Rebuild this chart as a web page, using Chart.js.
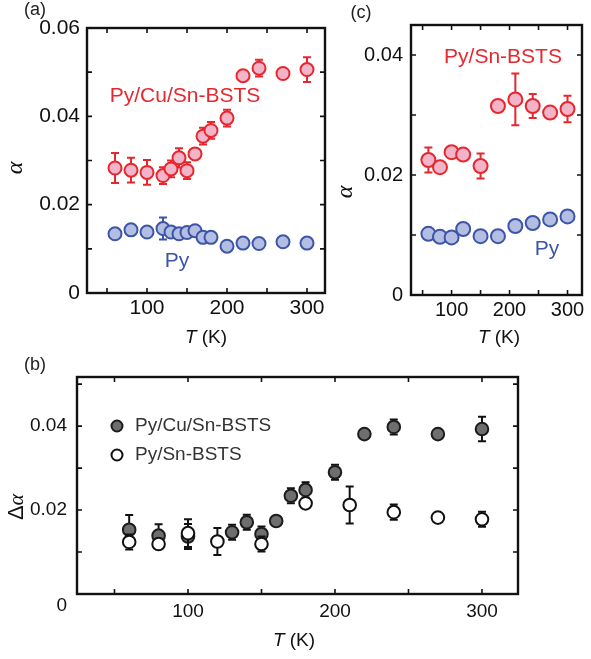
<!DOCTYPE html>
<html>
<head>
<meta charset="utf-8">
<title>Damping vs temperature</title>
<script src="https://cdn.jsdelivr.net/npm/chart.js@4.4.1/dist/chart.umd.min.js"></script>
<style>
    html, body { margin: 0; padding: 0; background: #fff; }
    body { position: relative; width: 591px; height: 659px; overflow: hidden; }
    canvas { position: absolute; }
</style>
</head>
<body>
<canvas id="chartA" width="335" height="360" style="left:0;top:0"></canvas>
<canvas id="chartC" width="261" height="360" style="left:330px;top:0"></canvas>
<canvas id="chartB" width="591" height="304" style="left:0;top:355px"></canvas>
<script>
// Panel (a): Py/Cu/Sn-BSTS and bare Py
const tempA = [60, 80, 100, 120, 130, 140, 150, 160, 170, 180, 200, 220, 240, 270, 300];
const alphaCuA = [0.0283, 0.0278, 0.0273, 0.0266, 0.0281, 0.0306, 0.0277, 0.0315, 0.0355, 0.0368, 0.0396, 0.0492, 0.0509, 0.0497, 0.0506];
const errCuA = [0.0034, 0.0028, 0.0028, 0.0019, 0.0019, 0.0022, 0.0019, 0, 0.0019, 0.0019, 0.0019, 0, 0.0019, 0, 0.0028];
const alphaPyA = [0.0134, 0.0143, 0.0138, 0.0146, 0.0138, 0.0134, 0.0137, 0.0141, 0.0126, 0.0126, 0.0106, 0.0113, 0.0112, 0.0116, 0.0113];
const errPyA = [0, 0, 0, 0.0025, 0, 0, 0, 0, 0, 0, 0, 0, 0, 0, 0];

// Panel (c): Py/Sn-BSTS and bare Py
const tempC = [60, 80, 100, 120, 150, 180, 210, 240, 270, 300];
const alphaSnC = [0.0225, 0.0213, 0.0238, 0.0234, 0.0215, 0.0315, 0.0326, 0.0315, 0.0304, 0.0310];
const errSnC = [0.0021, 0, 0, 0, 0.0021, 0, 0.0043, 0.0020, 0, 0.0022];
const alphaPyC = [0.0102, 0.0097, 0.0096, 0.0110, 0.0098, 0.0098, 0.0115, 0.0120, 0.0126, 0.0131];

// Panel (b): enhancement of damping
const tempCuB = [60, 80, 100, 130, 140, 150, 160, 170, 180, 200, 220, 240, 270, 300];
const dAlphaCuB = [0.0153, 0.0139, 0.0137, 0.0147, 0.0171, 0.0143, 0.0174, 0.0234, 0.0248, 0.0290, 0.0381, 0.0398, 0.0381, 0.0393];
const errCuB = [0.0035, 0.0027, 0.0030, 0.0018, 0.0018, 0.0018, 0, 0.0018, 0.0018, 0.0018, 0, 0.0018, 0, 0.0029];
const tempSnB = [60, 80, 100, 120, 150, 180, 210, 240, 270, 300];
const dAlphaSnB = [0.0124, 0.0119, 0.0145, 0.0125, 0.0119, 0.0216, 0.0212, 0.0195, 0.0182, 0.0178];
const errSnB = [0.0018, 0, 0.0033, 0.0032, 0.0018, 0, 0.0044, 0.0018, 0, 0.0018];

const labelsA = ['Py/Cu/Sn-BSTS', 'Py'];
const labelsC = ['Py/Sn-BSTS', 'Py'];
const labelsB = ['Py/Cu/Sn-BSTS', 'Py/Sn-BSTS'];

// Tick positions (major ones get a label)
const tempTicks = [50, 100, 150, 200, 250, 300];
const tempLabelled = [100, 200, 300];
const alphaTicksA = [0, 0.01, 0.02, 0.03, 0.04, 0.05, 0.06];
const alphaTicksC = [0, 0.01, 0.02, 0.03, 0.04];
const alphaTicksB = [0, 0.01, 0.02, 0.03, 0.04, 0.05];
const alphaLabelled = { 0: '0', 0.02: '0.02', 0.04: '0.04', 0.06: '0.06' };

const SANS = "'Liberation Sans', Arial, Helvetica, sans-serif";
const SERIF = "'Liberation Serif', 'Times New Roman', serif";
const RED = '#e8262d', PINK = '#f2b4c8';
const BLUE = '#3d55a8', LIGHTBLUE = '#b3bee2';
Chart.defaults.font.family = SANS;

const toPoints = (xs, ys) => xs.map((x, i) => ({ x: x, y: ys[i] }));

// Vertical error bars with caps, drawn just under each dataset's points
const errorBars = {
    id: 'errorBars',
    beforeDatasetDraw(chart, args) {
        const ds = chart.data.datasets[args.index];
        if (!ds.errors) return;
        const { ctx, scales: { x, y } } = chart;
        ctx.save();
        ctx.strokeStyle = ds.errorColor || ds.borderColor;
        ctx.lineWidth = 2;
        ctx.beginPath();
        ds.data.forEach((p, j) => {
            const e = ds.errors[j];
            if (!e) return;
            const px = x.getPixelForValue(p.x);
            const top = y.getPixelForValue(p.y + e);
            const bot = y.getPixelForValue(p.y - e);
            ctx.moveTo(px, top); ctx.lineTo(px, bot);
            ctx.moveTo(px - 4, top); ctx.lineTo(px + 4, top);
            ctx.moveTo(px - 4, bot); ctx.lineTo(px + 4, bot);
        });
        ctx.stroke();
        ctx.restore();
    }
};

// Closed frame with inward ticks on all four sides
const frame = {
    id: 'frame',
    beforeDatasetsDraw(chart) {
        const { ctx, chartArea: a, scales: { x, y } } = chart;
        ctx.save();
        ctx.strokeStyle = '#111';
        ctx.lineWidth = 1.6;
        ctx.beginPath();
        x.ticks.forEach(t => {
            const px = x.getPixelForValue(t.value);
            ctx.moveTo(px, a.bottom); ctx.lineTo(px, a.bottom - 5);
            ctx.moveTo(px, a.top); ctx.lineTo(px, a.top + 5);
        });
        y.ticks.forEach(t => {
            const py = y.getPixelForValue(t.value);
            ctx.moveTo(a.left, py); ctx.lineTo(a.left + 5, py);
            ctx.moveTo(a.right, py); ctx.lineTo(a.right - 5, py);
        });
        ctx.stroke();
        ctx.lineWidth = 2.4;
        ctx.strokeRect(a.left, a.top, a.right - a.left, a.bottom - a.top);
        ctx.restore();
    }
};

// Free text (panel letters, series names, axis titles) and legend markers
const notes = {
    id: 'notes',
    afterDraw(chart, args, opts) {
        const ctx = chart.ctx;
        (opts.items || []).forEach(it => {
            ctx.save();
            ctx.translate(it.x, it.y);
            if (it.rotate) ctx.rotate(it.rotate);
            if (it.marker) {
                ctx.beginPath();
                ctx.arc(0, 0, it.marker.r, 0, Math.PI * 2);
                ctx.fillStyle = it.marker.fill;
                ctx.fill();
                ctx.lineWidth = 2;
                ctx.strokeStyle = it.marker.stroke;
                ctx.stroke();
                ctx.restore();
                return;
            }
            const parts = it.parts || [{ text: it.text }];
            ctx.textBaseline = 'middle';
            ctx.textAlign = 'left';
            ctx.fillStyle = it.color || '#111';
            const fonts = parts.map(p => (p.style || '') + ' ' + (it.size || 19) + 'px ' + (p.family || SANS));
            const widths = parts.map((p, i) => { ctx.font = fonts[i]; return ctx.measureText(p.text).width; });
            const total = widths.reduce((s, w) => s + w, 0);
            let cx = it.align === 'left' ? 0 : -total / 2;
            parts.forEach((p, i) => {
                ctx.font = fonts[i];
                ctx.fillText(p.text, cx, 0);
                cx += widths[i];
            });
            ctx.restore();
        });
    }
};

const tTitle = [{ text: 'T', style: 'italic' }, { text: ' (K)' }];
const alphaTitle = [{ text: 'α', style: 'italic', family: SERIF }];

function makePanel(id, cfg) {
    return new Chart(document.getElementById(id), {
        type: 'scatter',
        data: { datasets: cfg.datasets },
        plugins: [errorBars, frame, notes],
        options: {
            responsive: false,
            animation: false,
            events: [],
            layout: { padding: cfg.padding },
            plugins: {
                legend: { display: false },
                tooltip: { enabled: false },
                notes: { items: cfg.notes }
            },
            scales: {
                x: {
                    type: 'linear',
                    min: cfg.xMin, max: cfg.xMax,
                    afterBuildTicks: s => { s.ticks = tempTicks.map(v => ({ value: v })); },
                    afterFit: s => { s.height = cfg.xHeight; },
                    grid: { display: false, drawTicks: false },
                    border: { display: false },
                    ticks: {
                        autoSkip: false, maxRotation: 0,
                        padding: cfg.xPad, color: '#111', font: { size: cfg.tickSize },
                        callback: v => (tempLabelled.includes(v) ? String(v) : '')
                    }
                },
                y: {
                    type: 'linear',
                    min: 0, max: cfg.yMax,
                    afterBuildTicks: s => { s.ticks = cfg.yTicks.map(v => ({ value: v })); },
                    afterFit: s => { s.width = cfg.yWidth; },
                    grid: { display: false, drawTicks: false },
                    border: { display: false },
                    ticks: {
                        autoSkip: false,
                        padding: cfg.yPad, color: '#111', font: { size: cfg.tickSize },
                        callback: cfg.yLabel || (v => alphaLabelled[v] || '')
                    }
                }
            }
        }
    });
}

function series(label, xs, ys, errs, fill, stroke, r, order) {
    return {
        label: label,
        data: toPoints(xs, ys),
        errors: errs,
        backgroundColor: fill,
        borderColor: stroke,
        pointRadius: r,
        pointBorderWidth: 2,
        order: order
    };
}

// (a)
makePanel('chartA', {
    xMin: 25, xMax: 322.5, yMax: 0.06, yTicks: alphaTicksA,
    padding: { top: 28, right: 10, left: 0, bottom: 0 },
    yWidth: 87, xHeight: 67, tickSize: 21, xPad: 3, yPad: 7,
    datasets: [
        series(labelsA[0], tempA, alphaCuA, errCuA, PINK, RED, 6.5, 1),
        series(labelsA[1], tempA, alphaPyA, errPyA, LIGHTBLUE, BLUE, 6.5, 2)
    ],
    notes: [
        { text: '(a)', x: 35, y: 10, size: 18, color: '#222' },
        { text: labelsA[0], x: 185, y: 96, size: 21, color: RED },
        { text: labelsA[1], x: 177, y: 261, size: 21, color: BLUE },
        { parts: alphaTitle, x: 16, y: 168, size: 24, rotate: -Math.PI / 2 },
        { parts: tTitle, x: 206, y: 338, size: 19 }
    ]
});

// (c)
makePanel('chartC', {
    xMin: 30, xMax: 325, yMax: 0.045, yTicks: alphaTicksC,
    padding: { top: 25, right: 3, left: 0, bottom: 0 },
    yWidth: 81, xHeight: 65, tickSize: 20, xPad: 3, yPad: 8,
    datasets: [
        series(labelsC[0], tempC, alphaSnC, errSnC, PINK, RED, 7, 1),
        series(labelsC[1], tempC, alphaPyC, null, LIGHTBLUE, BLUE, 7, 2)
    ],
    notes: [
        { text: '(c)', x: 31, y: 13, size: 18, color: '#222' },
        { text: labelsC[0], x: 173, y: 57, size: 21, color: RED },
        { text: labelsC[1], x: 217, y: 249, size: 21, color: BLUE },
        { parts: alphaTitle, x: 16, y: 192, size: 24, rotate: -Math.PI / 2 },
        { parts: tTitle, x: 169, y: 338, size: 19 }
    ]
});

// (b)
makePanel('chartB', {
    xMin: 24.5, xMax: 324.5, yMax: 0.0517, yTicks: alphaTicksB,
    padding: { top: 22, right: 73, left: 0, bottom: 0 },
    yWidth: 77, xHeight: 65, tickSize: 19, xPad: 6, yPad: 10,
    // the zero label sits a little below its tick in the original
    yLabel: v => (v === 0 ? ['', '0'] : alphaLabelled[v] || ''),
    datasets: [
        Object.assign(series(labelsB[0], tempCuB, dAlphaCuB, errCuB, '#6e6e6e', '#1c1c1c', 6.3, 2), { errorColor: '#111' }),
        Object.assign(series(labelsB[1], tempSnB, dAlphaSnB, errSnB, '#ffffff', '#111111', 6.3, 1), { errorColor: '#111' })
    ],
    notes: [
        { text: '(b)', x: 35, y: 10, size: 18, color: '#222' },
        { marker: { r: 5.5, fill: '#6e6e6e', stroke: '#1c1c1c' }, x: 117, y: 71 },
        { text: labelsB[0], x: 135, y: 71, size: 19, color: '#333', align: 'left' },
        { marker: { r: 5.5, fill: '#ffffff', stroke: '#111111' }, x: 117, y: 100 },
        { text: labelsB[1], x: 135, y: 100, size: 19, color: '#333', align: 'left' },
        { parts: [{ text: 'Δ' }, { text: 'α', style: 'italic', family: SERIF }], x: 17, y: 152, size: 22, rotate: -Math.PI / 2 },
        { parts: tTitle, x: 294, y: 286, size: 19 }
    ]
});
</script>
</body>
</html>
